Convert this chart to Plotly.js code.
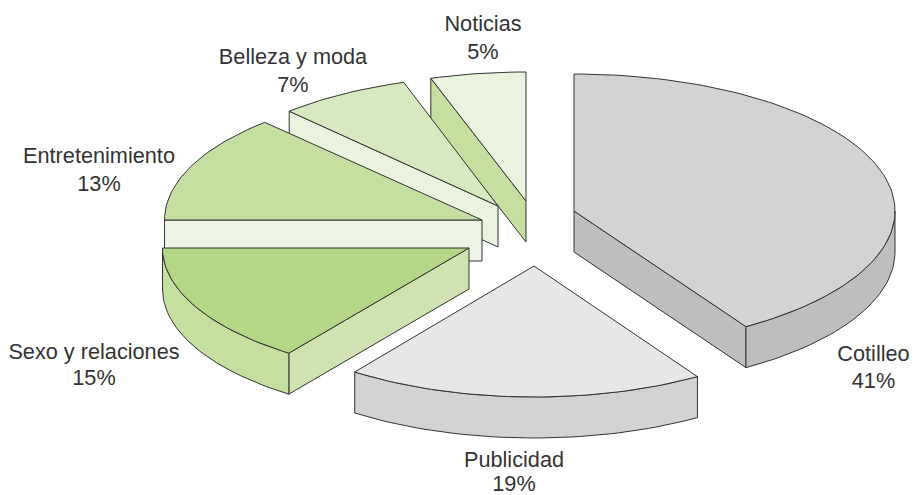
<!DOCTYPE html>
<html>
<head>
<meta charset="utf-8">
<script src="https://cdn.plot.ly/plotly-3.0.1.min.js"></script>
<style>html,body{margin:0;padding:0;background:#fff}#chart{width:914px;height:495px}</style>
</head>
<body>
<div id="chart"></div>
<script>
// Data, clockwise from twelve o'clock
const categories = ['Cotilleo', 'Publicidad', 'Sexo y relaciones', 'Entretenimiento', 'Belleza y moda', 'Noticias'];
const shares = [41, 19, 15, 13, 7, 5];

// Exploded-slice geometry (pixel-scale axis units), one entry per category
const apexX = [574, 534, 469, 482, 498, 526];
const apexY = [211, 266, 248, 220, 206, 201];
const radiusX = [321, 305, 306.5, 317.5, 305, 308];
const radiusY = [137, 131, 130, 134, 130, 129];
const depth = 41;

// Styles
const topColors = ['#d1d3d4', '#e6e7e8', '#b3d687', '#c5dfa0', '#d7e9bf', '#e9f3de'];
const wallColors = ['#bcbec0', '#d1d3d4', '#c5dfa0', '#c5dfa0', '#d7e9bf', '#e9f3de'];
const cutColors = ['#bcbec0', '#d1d3d4', '#cfe3b0', '#ecf5e3', '#e9f3de', '#c5dfa0'];
const drawOrder = [5, 4, 3, 2, 0, 1];

// Label placement
const labelX = [873.5, 514, 94, 99, 293, 483];
const nameY = [356, 462, 354, 158, 59, 26];
const pctY = [383, 486, 380, 186, 87, 54];

const INK = '#333333';
const rim = (i, deg) => {
  const r = deg * Math.PI / 180;
  return [apexX[i] + radiusX[i] * Math.sin(r), apexY[i] - radiusY[i] * Math.cos(r)];
};
const arc = (i, from, to) => {
  const pts = [];
  const n = Math.max(2, Math.ceil(Math.abs(to - from) / 1.5));
  for (let k = 0; k <= n; k++) pts.push(rim(i, from + (to - from) * k / n));
  return pts;
};
const poly = (pts, color) => ({
  type: 'scatter', mode: 'lines', x: pts.map(p => p[0]).concat(pts[0][0]), y: pts.map(p => p[1]).concat(pts[0][1]),
  fill: 'toself', fillcolor: color, line: {color: INK, width: 1}, hoverinfo: 'skip', showlegend: false
});
const down = p => [p[0], p[1] + depth];

// Slice angles from the shares
const total = shares.reduce((a, b) => a + b, 0);
const startA = [], endA = [];
shares.reduce((acc, v, i) => { startA[i] = acc; endA[i] = acc + v / total * 360; return endA[i]; }, 0);

const traces = [];
drawOrder.forEach(i => {
  const a = startA[i], b = endA[i], apex = [apexX[i], apexY[i]];
  const cutAt = a >= 180 ? a : (b <= 180 ? b : null);
  if (cutAt !== null) {
    const e = rim(i, cutAt);
    traces.push(poly([apex, e, down(e), down(apex)], cutColors[i]));
  }
  const wa = Math.max(a, 90), wb = Math.min(b, 270);
  if (wb > wa) {
    const pts = arc(i, wa, wb);
    traces.push(poly(pts.concat(pts.map(down).reverse()), wallColors[i]));
  }
  traces.push(poly([apex].concat(arc(i, a, b)), topColors[i]));
});

const textFont = {family: '"Liberation Sans", Arial, sans-serif', size: 21.7, color: INK};
traces.push({type: 'scatter', mode: 'text', x: labelX, y: nameY, text: categories,
  textposition: 'middle center', textfont: textFont, hoverinfo: 'skip', showlegend: false});
traces.push({type: 'scatter', mode: 'text', x: labelX, y: pctY, text: shares.map(v => v + '%'),
  textposition: 'middle center', textfont: textFont, hoverinfo: 'skip', showlegend: false});

const hidden = {visible: false, fixedrange: true};
Plotly.newPlot('chart', traces, {
  width: 914, height: 495, margin: {l: 0, r: 0, t: 0, b: 0},
  paper_bgcolor: '#fff', plot_bgcolor: '#fff', showlegend: false,
  xaxis: Object.assign({range: [0, 914]}, hidden),
  yaxis: Object.assign({range: [495, 0]}, hidden)
}, {displayModeBar: false, staticPlot: true});
</script>
</body>
</html>
